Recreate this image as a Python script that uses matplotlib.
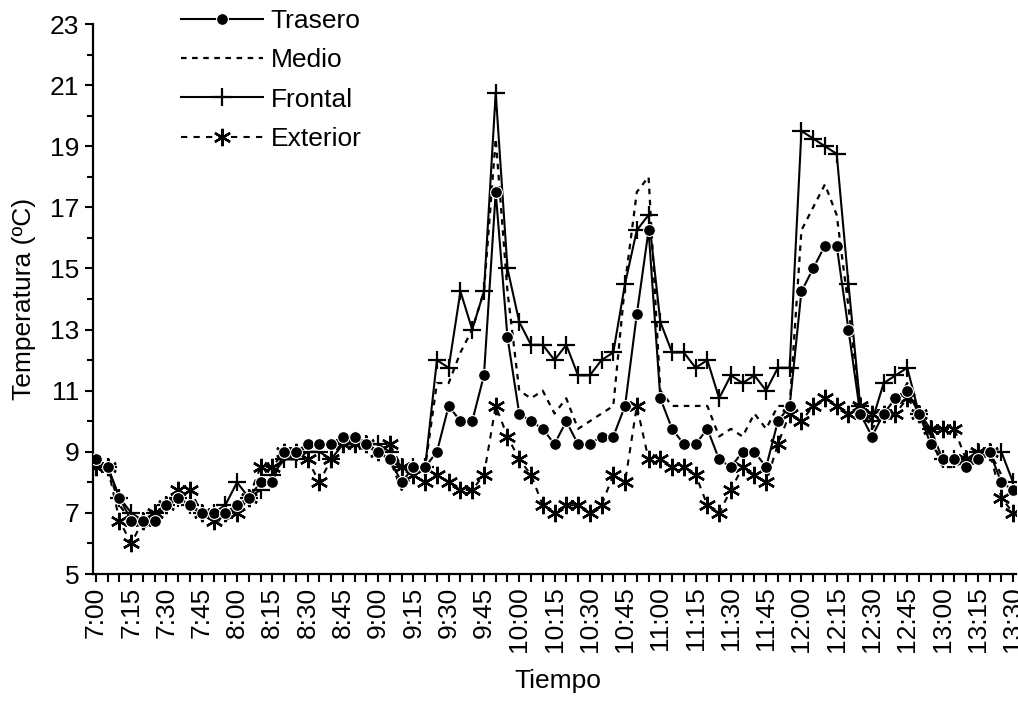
import numpy as np
import matplotlib
matplotlib.use("Agg")
import matplotlib.pyplot as plt
from matplotlib.ticker import FixedLocator

plt.rcParams['font.family'] = ['Liberation Sans', 'DejaVu Sans']
plt.rcParams['font.size'] = 19

# readings every 5 minutes, 7:00 -> 13:30
tick_labels = ["7:00", "7:15", "7:30", "7:45", "8:00", "8:15", "8:30", "8:45",
               "9:00", "9:15", "9:30", "9:45", "10:00", "10:15", "10:30", "10:45",
               "11:00", "11:15", "11:30", "11:45", "12:00", "12:15", "12:30",
               "12:45", "13:00", "13:15", "13:30"]

trasero = [8.75, 8.5, 7.5, 6.75, 6.75, 6.75, 7.25, 7.5, 7.25, 7.0,
           7.0, 7.0, 7.25, 7.5, 8.0, 8.0, 9.0, 9.0, 9.25, 9.25,
           9.25, 9.5, 9.5, 9.25, 9.0, 8.75, 8.0, 8.5, 8.5, 9.0,
           10.5, 10.0, 10.0, 11.5, 17.5, 12.75, 10.25, 10.0, 9.75, 9.25,
           10.0, 9.25, 9.25, 9.5, 9.5, 10.5, 13.5, 16.25, 10.75, 9.75,
           9.25, 9.25, 9.75, 8.75, 8.5, 9.0, 9.0, 8.5, 10.0, 10.5,
           14.25, 15.0, 15.75, 15.75, 13.0, 10.25, 9.5, 10.25, 10.75, 11.0,
           10.25, 9.25, 8.75, 8.75, 8.5, 8.75, 9.0, 8.0, 7.75]

medio = [8.75, 8.5, 7.25, 6.75, 6.5, 6.75, 7.25, 7.5, 7.25, 7.0,
         6.75, 6.75, 7.0, 7.5, 7.75, 8.25, 8.75, 9.0, 9.25, 9.25,
         9.25, 9.5, 9.5, 9.25, 9.0, 8.75, 7.75, 8.25, 8.5, 11.25,
         11.25, 12.25, 13.0, 14.25, 19.25, 14.25, 11.0, 10.75, 11.0, 10.25,
         10.75, 9.75, 10.0, 10.25, 10.5, 14.5, 17.5, 18.0, 11.0, 10.5,
         10.5, 10.5, 10.5, 9.5, 9.75, 9.5, 10.25, 9.75, 10.5, 10.5,
         16.25, 17.0, 17.75, 16.75, 13.75, 10.5, 9.75, 10.25, 10.5, 11.25,
         10.25, 9.5, 8.5, 8.5, 8.75, 8.75, 9.0, 8.25, 7.75]

frontal = [8.5, 8.5, 7.5, 7.0, 6.75, 7.0, 7.25, 7.5, 7.25, 7.0,
           7.0, 7.25, 8.0, 7.5, 7.75, 8.25, 8.75, 8.75, 9.0, 9.0,
           8.75, 9.25, 9.25, 9.25, 9.25, 9.0, 8.5, 8.5, 8.5, 12.0,
           11.75, 14.25, 13.0, 14.25, 20.75, 15.0, 13.25, 12.5, 12.5, 12.0,
           12.5, 11.5, 11.5, 12.0, 12.25, 14.5, 16.25, 16.75, 13.25, 12.25,
           12.25, 11.75, 12.0, 10.75, 11.5, 11.25, 11.5, 11.0, 11.75, 11.75,
           19.5, 19.25, 19.0, 18.75, 14.5, 10.5, 10.0, 11.25, 11.5, 11.75,
           10.25, 9.75, 8.75, 8.75, 8.75, 9.0, 9.0, 9.0, 8.0]

exterior = [8.5, 8.5, 6.75, 6.0, 6.75, 7.0, 7.25, 7.75, 7.75, 7.0,
            6.75, 7.0, 7.0, 7.5, 8.5, 8.5, 9.0, 9.0, 8.75, 8.0,
            8.75, 9.25, 9.25, 9.25, 9.0, 9.25, 8.5, 8.25, 8.0, 8.25,
            8.0, 7.75, 7.75, 8.25, 10.5, 9.5, 8.75, 8.25, 7.25, 7.0,
            7.25, 7.25, 7.0, 7.25, 8.25, 8.0, 10.5, 8.75, 8.75, 8.5,
            8.5, 8.25, 7.25, 7.0, 7.75, 8.5, 8.25, 8.0, 9.25, 10.25,
            10.0, 10.5, 10.75, 10.5, 10.25, 10.5, 10.25, 10.25, 10.25, 10.75,
            10.25, 9.75, 9.75, 9.75, 8.75, 9.0, 9.0, 7.5, 7.0]

x = np.arange(len(trasero))

fig = plt.figure(figsize=(10.18, 7.01), dpi=100)
ax = fig.add_axes([93 / 1018, 1 - 574 / 701, 923 / 1018, 550 / 701])

ax.plot(x, exterior, color='black', lw=1.5, linestyle=(0, (3, 3)),
        marker=(6, 2, 0), markersize=12.5, markeredgewidth=1.7,
        label='Exterior', zorder=2)
ax.plot(x, medio, color='black', lw=1.6, linestyle=(0, (2.5, 2.5)),
        label='Medio', zorder=3)
ax.plot(x, frontal, color='black', lw=1.5, marker='+', markersize=13,
        markeredgewidth=1.6, label='Frontal', zorder=4)
ax.plot(x, trasero, color='black', lw=1.5, marker='o', markersize=8.5,
        markerfacecolor='black', markeredgecolor='white', markeredgewidth=0.8,
        label='Trasero', zorder=5)

ax.set_xlim(-0.25, 78.25)
ax.set_ylim(5, 23)
ax.yaxis.set_major_locator(FixedLocator(np.arange(5, 24, 2)))
ax.yaxis.set_minor_locator(FixedLocator(np.arange(5, 24, 1)))
ax.xaxis.set_major_locator(FixedLocator(np.arange(0, 79, 3)))
ax.xaxis.set_minor_locator(FixedLocator(np.arange(0, 79, 1)))
ax.set_xticklabels(tick_labels, rotation=90)

for s in ['top', 'right']:
    ax.spines[s].set_visible(False)
for s in ['left', 'bottom']:
    ax.spines[s].set_linewidth(1.6)

ax.tick_params(axis='both', which='both', direction='out', width=1.5, colors='black')
ax.tick_params(axis='y', which='major', length=6, pad=4)
ax.tick_params(axis='y', which='minor', length=4)
ax.tick_params(axis='x', which='both', length=6, pad=3)

ax.set_xlabel('Tiempo')
ax.set_ylabel('Temperatura (ºC)')
ax.xaxis.set_label_coords(0.504, -0.172)
ax.yaxis.set_label_coords(-0.062, 0.5)

handles, labels = ax.get_legend_handles_labels()
order = [3, 1, 2, 0]
ax.legend([handles[i] for i in order], [labels[i] for i in order],
          loc='upper left', bbox_to_anchor=(181 / 1018, 1 - 9 / 701),
          bbox_transform=fig.transFigure, frameon=False, borderpad=0,
          borderaxespad=0, handlelength=3.1, handletextpad=0.3,
          labelspacing=0.58, numpoints=1)

fig.savefig('out.png', dpi=100)
